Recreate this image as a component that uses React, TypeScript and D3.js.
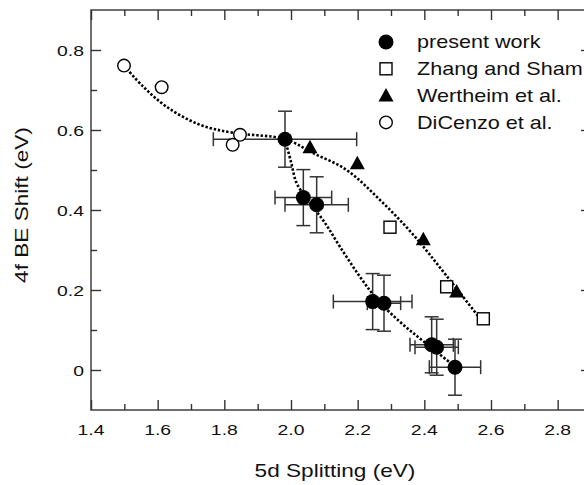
import React, { useEffect, useRef } from "react";
import * as d3 from "d3";

// --- data ---
const xMajor = [1.4, 1.6, 1.8, 2.0, 2.2, 2.4, 2.6, 2.8];
const xMinor = [1.5, 1.7, 1.9, 2.1, 2.3, 2.5, 2.7];
const yMajor = [0, 0.2, 0.4, 0.6, 0.8];
const yMinor = [0.1, 0.3, 0.5, 0.7];

// present work: x, y, x error, y error
const presentWork = [
  { x: 1.982, y: 0.577, xe: 0.215, ye: 0.07 },
  { x: 2.037, y: 0.431, xe: 0.085, ye: 0.07 },
  { x: 2.077, y: 0.413, xe: 0.095, ye: 0.07 },
  { x: 2.245, y: 0.171, xe: 0.118, ye: 0.07 },
  { x: 2.279, y: 0.167, xe: 0.05, ye: 0.07 },
  { x: 2.422, y: 0.063, xe: 0.065, ye: 0.07 },
  { x: 2.437, y: 0.057, xe: 0.065, ye: 0.07 },
  { x: 2.492, y: 0.007, xe: 0.077, ye: 0.07 },
];
const zhangSham = [[2.297, 0.357], [2.467, 0.208], [2.577, 0.128]];
const wertheim = [[2.057, 0.557], [2.199, 0.517], [2.397, 0.327], [2.497, 0.196]];
const diCenzo = [[1.499, 0.761], [1.612, 0.707], [1.847, 0.588], [1.825, 0.563]];

// dotted guide curves
const fitUpper = [
  [1.499, 0.761], [1.557, 0.708], [1.627, 0.658], [1.727, 0.613], [1.827, 0.593],
  [1.982, 0.577], [2.067, 0.542], [2.167, 0.5], [2.267, 0.425], [2.367, 0.338],
  [2.467, 0.235], [2.577, 0.118],
];
const fitLower = [
  [1.982, 0.577], [2.0, 0.52], [2.017, 0.467], [2.05, 0.425], [2.1, 0.37],
  [2.147, 0.308], [2.207, 0.233], [2.26, 0.175], [2.33, 0.118], [2.4, 0.07], [2.49, 0.01],
];

const legendLabels = ["present work", "Zhang and Sham", "Wertheim et al.", "DiCenzo et al."];

const W = 584, H = 485;
const FONT = "'Liberation Sans', Arial, Helvetica, sans-serif";

export default function App() {
  const ref = useRef<SVGSVGElement>(null);

  useEffect(() => {
    const svg = d3.select(ref.current);
    svg.selectAll("*").remove();

    const x = d3.scaleLinear().domain([1.4, 2.9]).range([91, 591]);
    const y = d3.scaleLinear().domain([-0.1, 0.9]).range([410, 10]);
    const axisColor = "#333";

    // --- frame ---
    svg.append("rect")
      .attr("x", x(1.4)).attr("y", y(0.9))
      .attr("width", x(2.9) - x(1.4)).attr("height", y(-0.1) - y(0.9))
      .attr("fill", "none").attr("stroke", axisColor).attr("stroke-width", 1.4);

    // --- ticks (inward, on all four sides) ---
    const tickAxis = (axis: any, vals: number[], size: number, tr: string) => {
      const g = svg.append("g").attr("transform", tr)
        .call(axis.tickValues(vals).tickSize(-size).tickFormat(() => ""));
      g.select(".domain").remove();
      g.selectAll("line").attr("stroke", axisColor).attr("stroke-width", 1.4);
      return g;
    };
    tickAxis(d3.axisBottom(x), xMajor, 10, `translate(0,${y(-0.1)})`);
    tickAxis(d3.axisBottom(x), xMinor, 6, `translate(0,${y(-0.1)})`);
    tickAxis(d3.axisTop(x), xMajor, 10, `translate(0,${y(0.9)})`);
    tickAxis(d3.axisTop(x), xMinor, 6, `translate(0,${y(0.9)})`);
    tickAxis(d3.axisLeft(y), yMajor, 10, `translate(${x(1.4)},0)`);
    tickAxis(d3.axisLeft(y), yMinor, 6, `translate(${x(1.4)},0)`);
    tickAxis(d3.axisRight(y), yMajor, 10, `translate(${x(2.9)},0)`);
    tickAxis(d3.axisRight(y), yMinor, 6, `translate(${x(2.9)},0)`);

    // stretched text helper (the figure's lettering is wide)
    const txt = (s: string, tx: number, ty: number, size: number, anchor: string, sx = 1.25, rot = 0) =>
      svg.append("text")
        .attr("transform", `translate(${tx},${ty}) rotate(${rot}) scale(${sx},1)`)
        .attr("font-family", FONT).attr("font-size", size)
        .attr("text-anchor", anchor).attr("fill", "#111").text(s);

    xMajor.forEach(v => txt(d3.format(".1f")(v), x(v), 435, 15.5, "middle"));
    yMajor.forEach(v => txt(v === 0 ? "0" : d3.format(".1f")(v), 84, y(v) + 5.5, 15.5, "end"));

    txt("5d Splitting (eV)", 335, 477, 19, "middle", 1.19);
    txt("4f BE Shift (eV)", 28, 205, 19, "middle", 1.19, -90);

    // --- dotted curves ---
    const line = d3.line<number[]>().x(d => x(d[0])).y(d => y(d[1])).curve(d3.curveCatmullRom.alpha(0.5));
    [fitUpper, fitLower].forEach(f =>
      svg.append("path").attr("d", line(f)).attr("fill", "none")
        .attr("stroke", "#000").attr("stroke-width", 2.6).attr("stroke-dasharray", "2.4 1.9"));

    // --- error bars ---
    const cap = 7;
    const eb = svg.append("g").attr("stroke", "#333").attr("stroke-width", 1.5);
    presentWork.forEach(d => {
      const cx = x(d.x), cy = y(d.y);
      const x0 = x(d.x - d.xe), x1 = x(d.x + d.xe);
      const y0 = y(d.y + d.ye), y1 = y(d.y - d.ye);
      eb.append("line").attr("x1", x0).attr("x2", x1).attr("y1", cy).attr("y2", cy);
      eb.append("line").attr("x1", x0).attr("x2", x0).attr("y1", cy - cap).attr("y2", cy + cap);
      eb.append("line").attr("x1", x1).attr("x2", x1).attr("y1", cy - cap).attr("y2", cy + cap);
      eb.append("line").attr("x1", cx).attr("x2", cx).attr("y1", y0).attr("y2", y1);
      eb.append("line").attr("x1", cx - cap).attr("x2", cx + cap).attr("y1", y0).attr("y2", y0);
      eb.append("line").attr("x1", cx - cap).attr("x2", cx + cap).attr("y1", y1).attr("y2", y1);
    });

    // --- markers ---
    const filledCircle = (g: any, cx: number, cy: number) =>
      g.append("circle").attr("cx", cx).attr("cy", cy).attr("r", 7.5).attr("fill", "#000");
    const openSquare = (g: any, cx: number, cy: number) =>
      g.append("rect").attr("x", cx - 6).attr("y", cy - 6).attr("width", 12).attr("height", 12)
        .attr("fill", "#fff").attr("stroke", "#000").attr("stroke-width", 1.4);
    const triangle = (g: any, cx: number, cy: number) =>
      g.append("path")
        .attr("d", `M${cx},${cy - 7.5}L${cx + 7.5},${cy + 6}L${cx - 7.5},${cy + 6}Z`)
        .attr("fill", "#000");
    const openCircle = (g: any, cx: number, cy: number) =>
      g.append("circle").attr("cx", cx).attr("cy", cy).attr("r", 6.3)
        .attr("fill", "#fff").attr("stroke", "#000").attr("stroke-width", 1.4);

    const m = svg.append("g");
    diCenzo.forEach(d => openCircle(m, x(d[0]), y(d[1])));
    zhangSham.forEach(d => openSquare(m, x(d[0]), y(d[1])));
    wertheim.forEach(d => triangle(m, x(d[0]), y(d[1])));
    presentWork.forEach(d => filledCircle(m, x(d.x), y(d.y)));

    // --- legend ---
    const markers = [filledCircle, openSquare, triangle, openCircle];
    legendLabels.forEach((lab, i) => {
      const ly = 42 + i * 26.8;
      markers[i](svg, 386, ly);
      txt(lab, 417, ly + 6.3, 18, "start", 1.2);
    });
  }, []);

  return (
    <svg ref={ref} width={W} height={H}
      style={{ position: "absolute", left: 0, top: 0, background: "#fff" }} />
  );
}
